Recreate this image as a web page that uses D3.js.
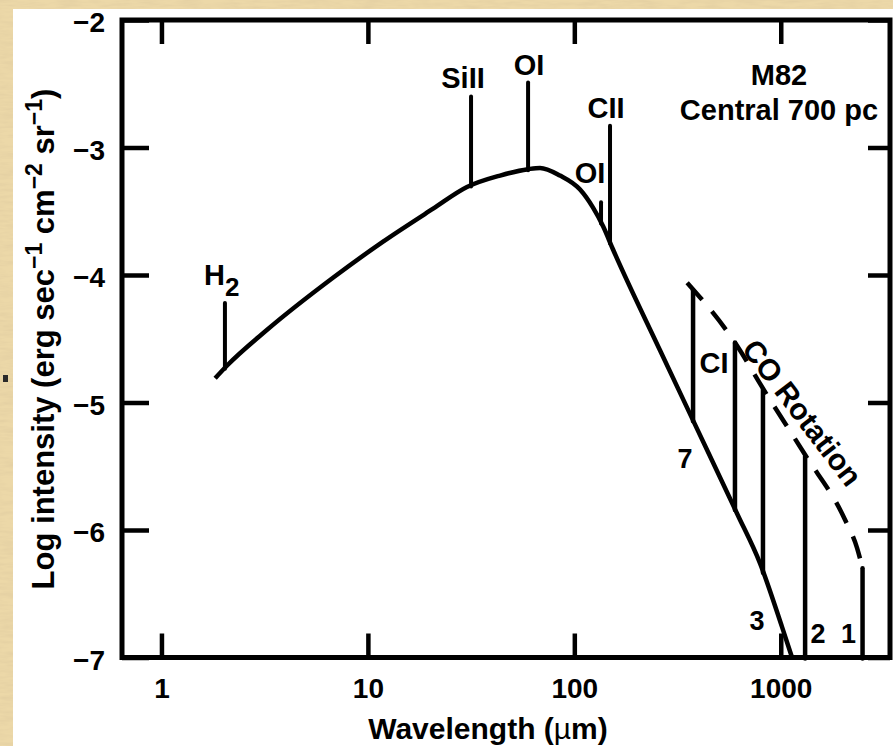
<!DOCTYPE html>
<html>
<head>
<meta charset="utf-8">
<script src="https://d3js.org/d3.v7.min.js"></script>
<style>
body { margin: 0; background: #ead5a4; }
svg { display: block; }
text { font-family: "Liberation Sans", Arial, Helvetica, sans-serif; font-weight: bold; fill: #000; }
.tick text { font-size: 28px; }
.tick line { stroke: #000; stroke-width: 4.5; }
</style>
</head>
<body>
<svg id="chart" width="893" height="746"></svg>
<script>
// continuum: wavelength (micron) and log intensity
var contWave = [1.82, 2.08, 3.25, 6.8, 11.8, 20.7, 30.2, 43.7, 59.7, 68.2, 85.2, 106.6, 123, 138, 154, 260, 376, 614, 793, 1014, 1134];
var contLogI = [-4.81, -4.71, -4.43, -4.02, -3.74, -3.48, -3.31, -3.22, -3.17, -3.16, -3.22, -3.33, -3.47, -3.62, -3.80, -4.59, -5.14, -5.87, -6.26, -6.76, -7.0];

// fine-structure / H2 lines: wavelength and peak log intensity
var lineNames = ["H2", "SiII", "OI", "OI", "CII"];
var lineWave = [2.03, 31.6, 59.7, 134.7, 148.9];
var lineTop = [-4.22, -2.60, -2.49, -3.43, -2.83];

// CO rotation ladder + CI
var coNames = ["7", "CI", "3", "2", "1"];
var coWave = [376, 600, 820, 1312, 2490];
var coTop = [-4.12, -4.53, -4.90, -5.42, -6.30];

// dashed CO envelope
var envWave = [352, 600, 820, 1312, 2048, 2341, 2490];
var envLogI = [-4.06, -4.53, -4.89, -5.41, -5.92, -6.14, -6.30];

var xTicks = [1, 10, 100, 1000];
var yTicks = [-7, -6, -5, -4, -3, -2];

var svg = d3.select("#chart");

// paper background
var defs = svg.append("defs");
var f = defs.append("filter").attr("id", "paper").attr("x", 0).attr("y", 0).attr("width", 1).attr("height", 1);
f.append("feTurbulence").attr("type", "fractalNoise").attr("baseFrequency", "0.05 0.3").attr("numOctaves", 3).attr("seed", 4);
f.append("feColorMatrix").attr("type", "matrix")
  .attr("values", "0 0 0 0 0.72  0 0 0 0 0.58  0 0 0 0 0.34  0.9 0 0 0 -0.3");
svg.append("rect").attr("width", 893).attr("height", 746).attr("fill", "#ecd8a8");
svg.append("rect").attr("width", 893).attr("height", 746).attr("filter", "url(#paper)");
svg.append("rect").attr("x", 13).attr("y", 9).attr("width", 880).attr("height", 737).attr("fill", "#fff");
svg.append("rect").attr("x", 3).attr("y", 375).attr("width", 5).attr("height", 7).attr("fill", "#2a2a2a");

var x = d3.scaleLog().domain([0.644, 3382]).range([122, 890]);
var y = d3.scaleLinear().domain([-7, -2]).range([657.5, 20]);

// axes
var gb = svg.append("g").attr("transform", "translate(0," + y(-7) + ")")
  .call(d3.axisBottom(x).tickValues(xTicks).tickFormat(d3.format("d")).tickSizeInner(-24).tickSizeOuter(0).tickPadding(21));
var gt = svg.append("g").attr("transform", "translate(0," + y(-2) + ")")
  .call(d3.axisTop(x).tickValues(xTicks).tickFormat("").tickSizeInner(-24).tickSizeOuter(0));
var gl = svg.append("g").attr("transform", "translate(" + x.range()[0] + ",0)")
  .call(d3.axisLeft(y).tickValues(yTicks).tickFormat(d3.format("d")).tickSizeInner(-27).tickSizeOuter(0).tickPadding(17));
var gr = svg.append("g").attr("transform", "translate(" + x.range()[1] + ",0)")
  .call(d3.axisRight(y).tickValues(yTicks).tickFormat("").tickSizeInner(-22).tickSizeOuter(0));
[gb, gt, gl, gr].forEach(function(g) { g.select(".domain").remove(); g.attr("font-size", null).attr("font-family", null); });
gl.selectAll(".tick text").attr("dy", "0.42em");
gb.selectAll(".tick text").attr("dy", "0.68em");

// frame
svg.append("rect")
  .attr("x", x.range()[0]).attr("y", y(-2))
  .attr("width", x.range()[1] - x.range()[0]).attr("height", y(-7) - y(-2))
  .attr("fill", "none").attr("stroke", "#000").attr("stroke-width", 5);

function contAt(w) {
  var lx = contWave.map(Math.log10), lw = Math.log10(w);
  if (lw >= lx[lx.length - 1]) return -7;
  var i = d3.bisectRight(lx, lw);
  if (i <= 0) return contLogI[0];
  var t = (lw - lx[i - 1]) / (lx[i] - lx[i - 1]);
  return contLogI[i - 1] + t * (contLogI[i] - contLogI[i - 1]);
}

var line = d3.line().x(function(d) { return x(d[0]); }).y(function(d) { return y(d[1]); }).curve(d3.curveMonotoneX);

// continuum
svg.append("path")
  .datum(contWave.map(function(w, i) { return [w, contLogI[i]]; }))
  .attr("d", line).attr("fill", "none").attr("stroke", "#000")
  .attr("stroke-width", 4.5).attr("stroke-linejoin", "round");

// dashed CO envelope
svg.append("path")
  .datum(envWave.map(function(w, i) { return [w, envLogI[i]]; }))
  .attr("d", line).attr("fill", "none").attr("stroke", "#000")
  .attr("stroke-width", 4.5).attr("stroke-dasharray", "23,15");

// emission lines
svg.selectAll(".eline").data(lineWave).enter().append("line")
  .attr("x1", function(d) { return x(d); }).attr("x2", function(d) { return x(d); })
  .attr("y1", function(d) { return y(contAt(d)) + 1; })
  .attr("y2", function(d, i) { return y(lineTop[i]); })
  .attr("stroke", "#000").attr("stroke-width", 4).attr("stroke-linecap", "round");

svg.selectAll(".coline").data(coWave).enter().append("line")
  .attr("x1", function(d) { return x(d); }).attr("x2", function(d) { return x(d); })
  .attr("y1", function(d) { return y(contAt(d)) + 1; })
  .attr("y2", function(d, i) { return y(coTop[i]); })
  .attr("stroke", "#000").attr("stroke-width", 4.5).attr("stroke-linecap", "round");

// line labels (offsets from line top, px)
var lblDx = [-21, -8, 1, -11, -4];
var lblDy = [-18, -9, -7, -19, -8];
lineNames.forEach(function(n, i) {
  var t = svg.append("text")
    .attr("x", x(lineWave[i]) + lblDx[i]).attr("y", y(lineTop[i]) + lblDy[i])
    .attr("font-size", 29);
  if (n === "H2") {
    t.attr("text-anchor", "start").text("H");
    t.append("tspan").attr("dy", 11).attr("font-size", 26).text("2");
  } else {
    t.attr("text-anchor", "middle").text(n);
  }
});

var coDx = [-8, -21, -6, 13, -14];
var coY = [468, 373, 630, 643, 643];
coNames.forEach(function(n, i) {
  svg.append("text").attr("x", x(coWave[i]) + coDx[i]).attr("y", coY[i])
    .attr("text-anchor", "middle").attr("font-size", n === "CI" ? 29 : 27).text(n);
});

svg.append("text").attr("transform", "translate(794,419) rotate(52.6)")
  .attr("text-anchor", "middle").attr("font-size", 30).text("CO Rotation");

svg.append("text").attr("x", 779).attr("y", 85).attr("text-anchor", "middle").attr("font-size", 29).text("M82");
svg.append("text").attr("x", 779).attr("y", 120).attr("text-anchor", "middle").attr("font-size", 29).text("Central 700 pc");

// axis titles
var xt = svg.append("text").attr("x", 488).attr("y", 739).attr("text-anchor", "middle").attr("font-size", 30);
xt.append("tspan").text("Wavelength (");
xt.append("tspan").attr("font-weight", "normal").text("\u00b5");
xt.append("tspan").text("m)");

var yt = svg.append("text").attr("transform", "translate(54,339) rotate(-90)")
  .attr("text-anchor", "middle").attr("font-size", 31);
yt.append("tspan").text("Log intensity (erg sec");
yt.append("tspan").attr("dy", -12).attr("font-size", 23).text("\u22121");
yt.append("tspan").attr("dy", 12).text(" cm");
yt.append("tspan").attr("dy", -12).attr("font-size", 23).text("\u22122");
yt.append("tspan").attr("dy", 12).text(" sr");
yt.append("tspan").attr("dy", -12).attr("font-size", 23).text("\u22121");
yt.append("tspan").attr("dy", 12).text(")");
</script>
</body>
</html>
